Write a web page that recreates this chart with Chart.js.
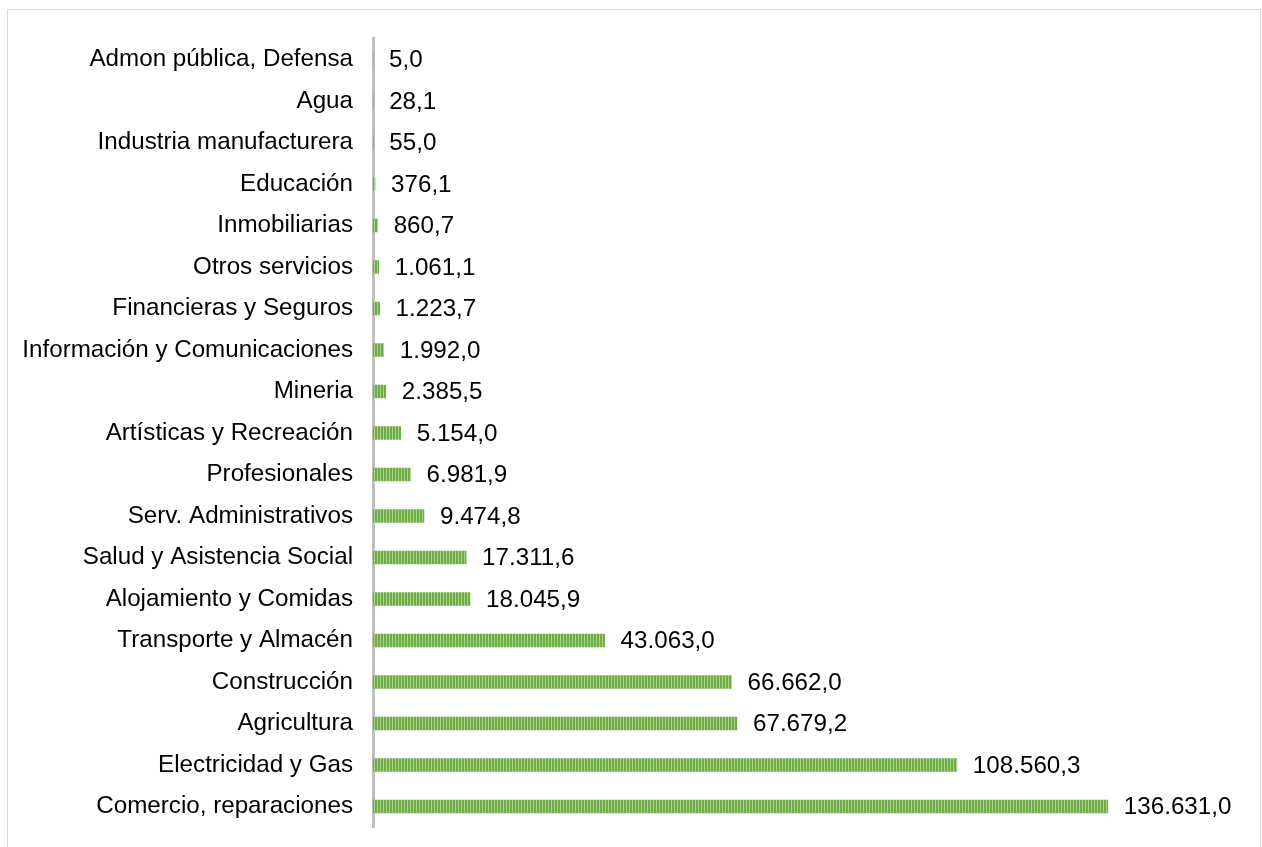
<!DOCTYPE html>
<html>
<head>
<meta charset="utf-8">
<script src="https://cdn.jsdelivr.net/npm/chart.js@4"></script>
<style>
  html, body { margin: 0; padding: 0; background: #ffffff; }
  #wrap { position: relative; width: 1262px; height: 847px; }
</style>
</head>
<body>
<div id="wrap"><canvas id="c" width="1262" height="847"></canvas></div>
<script>
// Sectors, top to bottom
const categories = [
  'Admon pública, Defensa',
  'Agua',
  'Industria manufacturera',
  'Educación',
  'Inmobiliarias',
  'Otros servicios',
  'Financieras y Seguros',
  'Información y Comunicaciones',
  'Mineria',
  'Artísticas y Recreación',
  'Profesionales',
  'Serv. Administrativos',
  'Salud y Asistencia Social',
  'Alojamiento y Comidas',
  'Transporte y Almacén',
  'Construcción',
  'Agricultura',
  'Electricidad y Gas',
  'Comercio, reparaciones'
];

const values = [
  5.0, 28.1, 55.0, 376.1, 860.7, 1061.1, 1223.7, 1992.0, 2385.5,
  5154.0, 6981.9, 9474.8, 17311.6, 18045.9, 43063.0, 66662.0,
  67679.2, 108560.3, 136631.0
];

const axisMax = 160000;

// 136631 -> "136.631,0"
function fmt(v) {
  const parts = v.toFixed(1).split('.');
  const intPart = parts[0].replace(/\B(?=(\d{3})+(?!\d))/g, '.');
  return intPart + ',' + parts[1];
}

// Vertical stripe fill for the bars
function stripePattern() {
  const p = document.createElement('canvas');
  p.width = 3; p.height = 4;
  const g = p.getContext('2d');
  g.fillStyle = '#a9d18e';
  g.fillRect(0, 0, 3, 4);
  g.fillStyle = '#70ad47';
  g.fillRect(0, 0, 2, 4);
  return g.createPattern(p, 'repeat');
}

const FONT = { family: '"Liberation Sans", Arial, sans-serif', size: 24.2 };

// Outer frame
const framePlugin = {
  id: 'frame',
  beforeDraw(chart) {
    const ctx = chart.ctx;
    ctx.save();
    ctx.fillStyle = '#ffffff';
    ctx.fillRect(0, 0, chart.width, chart.height);
    ctx.strokeStyle = '#d9d9d9';
    ctx.lineWidth = 1;
    ctx.strokeRect(7.5, 9.5, 1253, 860);
    ctx.restore();
  }
};

// Value labels to the right of each bar
const valueLabels = {
  id: 'valueLabels',
  afterDatasetsDraw(chart) {
    const ctx = chart.ctx;
    const meta = chart.getDatasetMeta(0);
    ctx.save();
    ctx.font = FONT.size + 'px ' + FONT.family;
    ctx.fillStyle = '#000000';
    ctx.textAlign = 'left';
    ctx.textBaseline = 'middle';
    meta.data.forEach((bar, i) => {
      ctx.fillText(fmt(values[i]), bar.x + 16, bar.y + 1);
    });
    ctx.restore();
  }
};

new Chart(document.getElementById('c'), {
  type: 'bar',
  data: {
    labels: categories,
    datasets: [{
      data: values,
      backgroundColor: stripePattern(),
      borderWidth: 0,
      barThickness: 13
    }]
  },
  options: {
    indexAxis: 'y',
    responsive: false,
    animation: false,
    layout: { padding: { left: 0, top: 38.75, right: 28.5, bottom: 19.75 } },
    plugins: {
      legend: { display: false },
      tooltip: { enabled: false }
    },
    scales: {
      x: {
        display: false,
        min: 0,
        max: axisMax
      },
      y: {
        afterFit(scale) { scale.width = 373; },
        grid: { display: false, drawTicks: true, tickLength: 20 },
        border: { display: true, color: '#bfbfbf', width: 3 },
        ticks: {
          color: '#000000',
          font: FONT,
          padding: 0,
          autoSkip: false
        }
      }
    }
  },
  plugins: [framePlugin, valueLabels]
});
</script>
</body>
</html>
